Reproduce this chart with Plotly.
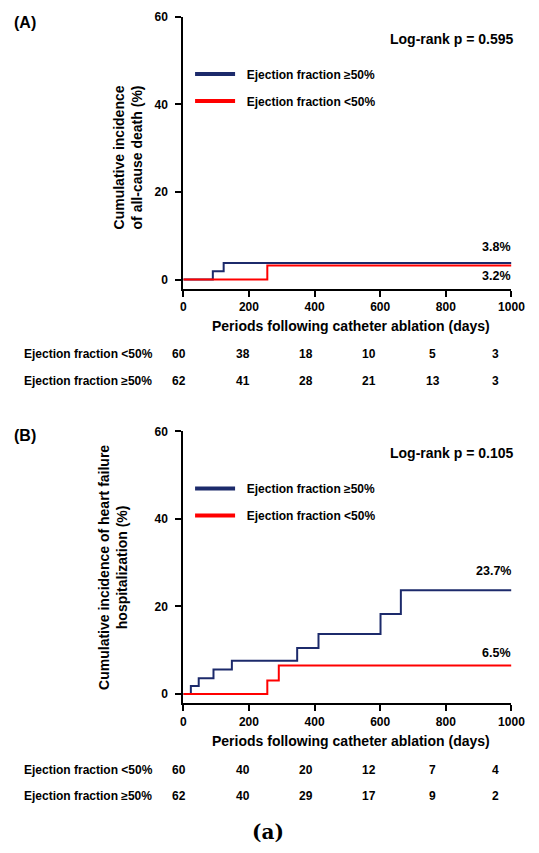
import plotly.graph_objects as go

# The page is 539x853. The browser keeps its default body margin (8px) and the
# figure starts ~14px from the top, so the figure is sized to fill the page and
# reference pixel positions are shifted by that offset.
PAGE_W, PAGE_H = 539, 853
OFFX, OFFY = 8, 14
W, H = PAGE_W - OFFX, PAGE_H - OFFY - 8

# ---------------- data ----------------
# Panel A: all-cause death
a_pres_t = [0, 90, 123, 1000]
a_pres_v = [0, 1.9, 3.8, 3.8]
a_red_t = [0, 256, 1000]
a_red_v = [0, 3.2, 3.2]

# Panel B: heart failure hospitalization
b_pres_t = [0, 23, 47, 92, 148, 347, 412, 601, 663, 1000]
b_pres_v = [0, 1.8, 3.6, 5.6, 7.6, 10.5, 13.7, 18.3, 23.7, 23.7]
b_red_t = [0, 256, 291, 1000]
b_red_v = [0, 3.1, 6.5, 6.5]

risk_times = [0, 200, 400, 600, 800, 1000]
a_risk_red = [60, 38, 18, 10, 5, 3]
a_risk_pres = [62, 41, 28, 21, 13, 3]
b_risk_red = [60, 40, 20, 12, 7, 4]
b_risk_pres = [62, 40, 29, 17, 9, 2]

a_end_labels = ["3.8%", "3.2%"]
b_end_labels = ["23.7%", "6.5%"]
a_p = "Log-rank p = 0.595"
b_p = "Log-rank p = 0.105"

name_pres = "Ejection fraction \u226550%"
name_red = "Ejection fraction <50%"
BLUE = "#1c2a6b"
RED = "#ff0000"
FONT = "Liberation Sans, Arial, sans-serif"

x_ticks = [0, 200, 400, 600, 800, 1000]
y_ticks = [0, 20, 40, 60]

fig = go.Figure()

def px_x(p):
    return (p - OFFX) / W

def px_y(p):
    return 1 - (p - OFFY) / H

# ---- curves
for t, v, c, xa, ya in [
    (a_pres_t, a_pres_v, BLUE, "x", "y"),
    (a_red_t, a_red_v, RED, "x", "y"),
    (b_pres_t, b_pres_v, BLUE, "x2", "y2"),
    (b_red_t, b_red_v, RED, "x2", "y2"),
]:
    fig.add_trace(go.Scatter(x=t, y=v, mode="lines", line=dict(color=c, width=2, shape="hv"),
                             xaxis=xa, yaxis=ya, showlegend=False, hoverinfo="skip"))

# ---- legend entries (thicker keys)
sp = "\u00a0\u00a0"
for nm, c, lg, grp in [(name_pres, BLUE, "legend", "a1"), (name_red, RED, "legend", "a2"),
                       (name_pres, BLUE, "legend2", "b1"), (name_red, RED, "legend2", "b2")]:
    fig.add_trace(go.Scatter(x=[None], y=[None], mode="lines", name=sp + nm,
                             line=dict(color=c, width=4), legend=lg, legendgroup=grp,
                             xaxis="x" if lg == "legend" else "x2",
                             yaxis="y" if lg == "legend" else "y2"))

axis_common = dict(showline=True, linewidth=2, linecolor="black", ticks="outside", ticklen=6,
                   tickwidth=2, tickcolor="black", showgrid=False, zeroline=False,
                   tickfont=dict(size=12, family=FONT, color="black", weight="bold"))

xdom = [px_x(186), px_x(525)]
leg_common = dict(xanchor="left", yanchor="top", bgcolor="rgba(0,0,0,0)", itemwidth=40,
                  tracegroupgap=8, font=dict(size=12, family=FONT, weight="bold"))
fig.update_layout(
    width=W, height=H, margin=dict(l=0, r=0, t=0, b=0), autosize=False,
    paper_bgcolor="white", plot_bgcolor="white",
    font=dict(family=FONT, size=12, color="black", weight="bold"),
    xaxis=dict(domain=xdom, range=[0, 1000], tickvals=x_ticks, anchor="y", **axis_common),
    yaxis=dict(domain=[px_y(290), px_y(15.7)], range=[-2.07, 60], tickvals=y_ticks, anchor="x",
               ticklabelstandoff=5, **axis_common),
    xaxis2=dict(domain=xdom, range=[0, 1000], tickvals=x_ticks, anchor="y2", **axis_common),
    yaxis2=dict(domain=[px_y(708), px_y(434)], range=[-2.1, 60], tickvals=y_ticks, anchor="x2",
                ticklabelstandoff=5, **axis_common),
    legend=dict(x=px_x(193), y=px_y(59), **leg_common),
    legend2=dict(x=px_x(193), y=px_y(477), **leg_common),
)

ann = []

def add(text, x, y, size=12, xanchor="center", yanchor="middle", angle=0, family=FONT, weight="bold"):
    ann.append(dict(text=text, x=px_x(x), y=px_y(y), xref="paper", yref="paper", showarrow=False,
                    xanchor=xanchor, yanchor=yanchor, textangle=angle,
                    font=dict(size=size, family=family, color="black", weight=weight)))

# panel labels
add("(A)", 9, 22, size=16, xanchor="left")
add("(B)", 9, 438, size=16, xanchor="left")
add(a_p, 530, 38, size=14, xanchor="right")
add(b_p, 530, 456, size=14, xanchor="right")
add(a_end_labels[0], 527, 248, size=12.5, xanchor="right")
add(a_end_labels[1], 527, 277, size=12.5, xanchor="right")
add(b_end_labels[0], 527, 575, size=12.5, xanchor="right")
add(b_end_labels[1], 527, 657, size=12.5, xanchor="right")

# axis titles
add("Cumulative incidence<br>of all-cause death (%)", 128.5, 158, size=14, angle=-90)
add("Cumulative incidence of heart failure<br>hospitalization (%)", 114, 571, size=14, angle=-90)
add("Periods following catheter ablation (days)", 359, 328, size=14)
add("Periods following catheter ablation (days)", 359, 746, size=14)

# risk tables
for row_y, label, vals in [(356, name_red, a_risk_red), (383, name_pres, a_risk_pres),
                           (775, name_red, b_risk_red), (802, name_pres, b_risk_pres)]:
    add(label, 19.5, row_y, size=12, xanchor="left")
    for t, v in zip(risk_times, vals):
        add(str(v), 182 + t * 0.327, row_y, size=12)

add("(a)", 274, 838, size=20, family="DejaVu Serif, Liberation Serif, serif", weight="bold")

fig.update_layout(annotations=ann)
fig.write_html("out.html", config={"displayModeBar": False, "responsive": False},
               post_script="document.querySelectorAll('.main-svg').forEach(function(s){"
                           "s.style.overflow='visible';});")
